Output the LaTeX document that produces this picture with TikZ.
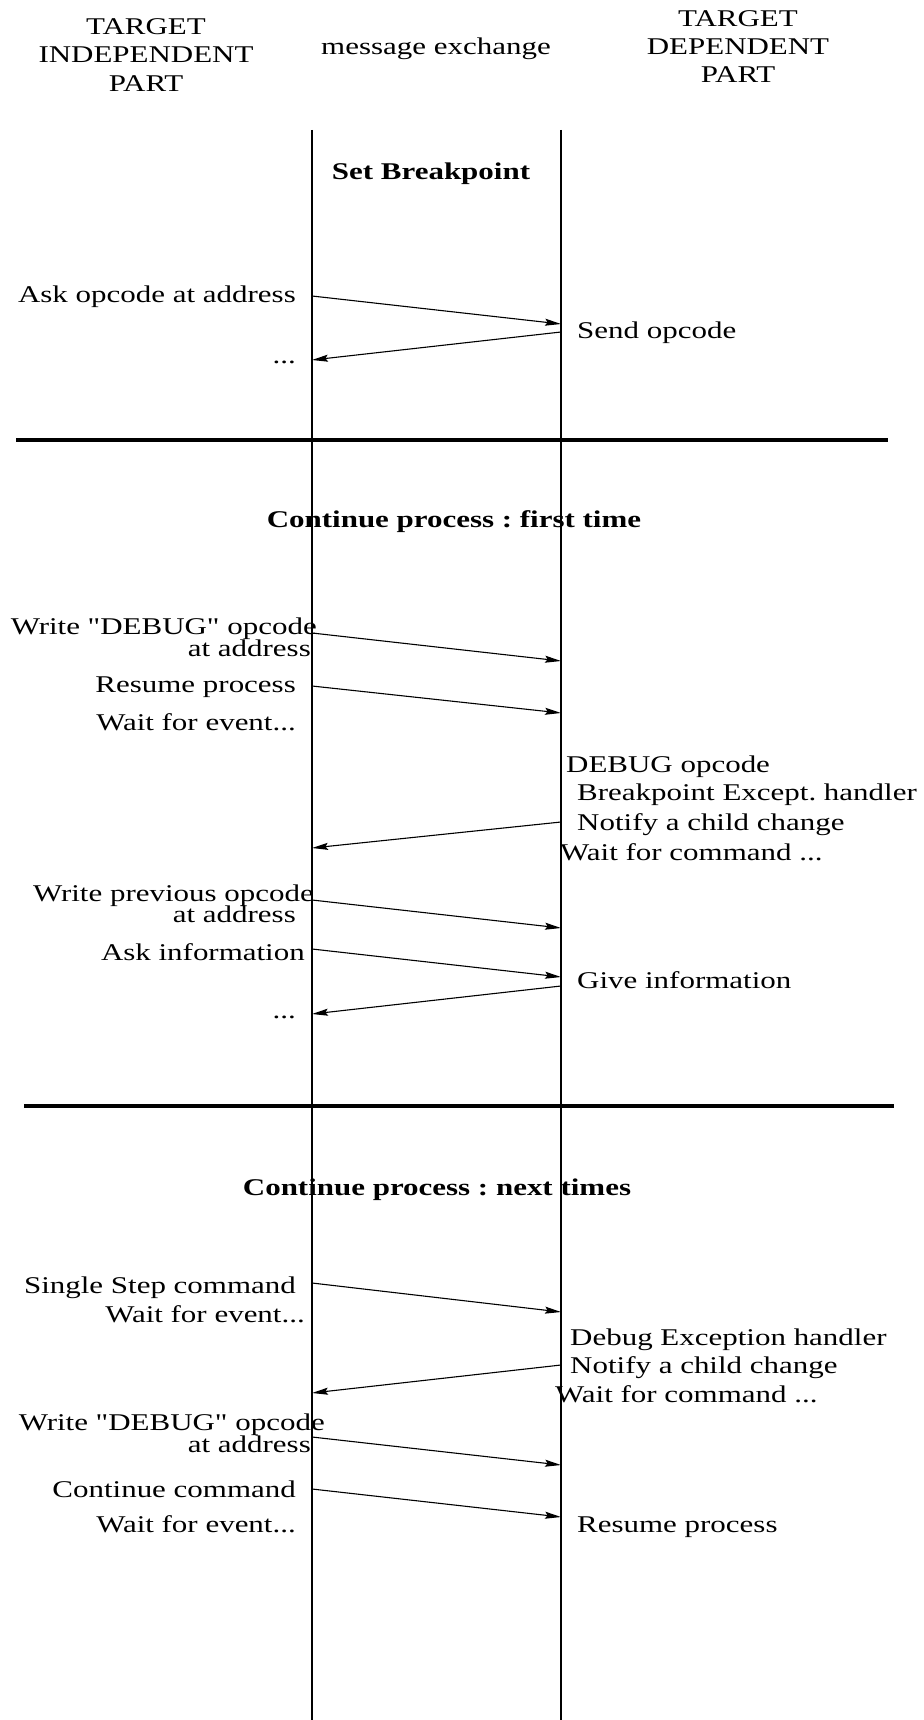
\documentclass[tikz,border=0pt]{standalone}
\usepackage{fontspec}
\setmainfont{Liberation Serif}[FakeStretch=1.29, Ligatures=TeXOff]
\usetikzlibrary{arrows.meta}
\begin{document}
\frenchspacing
\begin{tikzpicture}[x=1pt,y=-1pt,
  lbl/.style={inner sep=0pt, font=\fontsize{24}{29}\selectfont},
  lt/.style={lbl, anchor=base east},
  rt/.style={lbl, anchor=base west},
  hd/.style={lbl, anchor=base},
  ttl/.style={inner sep=0pt, anchor=base, font=\fontsize{24}{29}\selectfont\bfseries},
  life/.style={line width=1.4pt},
  sepline/.style={line width=3.3pt},
  msg/.style={line width=1.1pt, -{Stealth[length=16pt,width=7pt,inset=2.5pt]}}]
\useasboundingbox (0,0) rectangle (923,1720);
% headers
\node[hd] (h1) at (146,35) {TARGET};
\node[hd] (h2) at (146,63) {INDEPENDENT};
\node[hd] (h3) at (146,92) {PART};
\node[hd] (hm) at (436,55) {message exchange};
\node[hd] (h4) at (738,27) {TARGET};
\node[hd] (h5) at (738,55) {DEPENDENT};
\node[hd] (h6) at (738,83) {PART};
% lifelines
\coordinate (Ltop) at (312,130); \coordinate (Lbot) at (312,1720);
\coordinate (Rtop) at (561,130); \coordinate (Rbot) at (561,1720);
\draw[life] (Ltop) -- (Lbot);
\draw[life] (Rtop) -- (Rbot);
% separators
\coordinate (s1a) at (16,440); \coordinate (s1b) at (888,440);
\coordinate (s2a) at (24,1106); \coordinate (s2b) at (894,1106);
\draw[sepline] (s1a) -- (s1b);
\draw[sepline] (s2a) -- (s2b);
% section 1
\node[ttl] (t1) at (431,180) {Set Breakpoint};
\node[lt] (a1) at (296,302) {Ask opcode at address};
\node[rt] (b1) at (577,338) {Send opcode};
\node[lt] (c1) at (296,363) {...};
\coordinate (m1s) at (312,296); \coordinate (m1e) at (561,324);
\coordinate (m2s) at (561,332); \coordinate (m2e) at (312,360);
\draw[msg] (m1s) -- (m1e);
\draw[msg] (m2s) -- (m2e);
% section 2
\node[ttl] (t2) at (454,527) {Continue process : first time};
\node[lt] (a2) at (317,634) {Write "DEBUG" opcode};
\node[lt] (a2b) at (311,656) {at address};
\node[lt] (a3) at (296,692) {Resume process};
\node[lt] (a4) at (296,730) {Wait for event...};
\node[rt] (b2) at (566,772) {DEBUG opcode};
\node[rt] (b3) at (577,800) {Breakpoint Except. handler};
\node[rt] (b4) at (577,830) {Notify a child change};
\node[rt] (b5) at (560,860) {Wait for command ...};
\node[lt] (a5) at (314,901) {Write previous opcode};
\node[lt] (a5b) at (296,922) {at address};
\node[lt] (a6) at (305,960) {Ask information};
\node[rt] (b6) at (577,988) {Give information};
\node[lt] (a7) at (296,1018) {...};
\coordinate (m3s) at (312,633); \coordinate (m3e) at (561,661);
\coordinate (m4s) at (312,686); \coordinate (m4e) at (561,713);
\coordinate (m5s) at (561,822); \coordinate (m5e) at (312,848);
\coordinate (m6s) at (312,900); \coordinate (m6e) at (561,928);
\coordinate (m7s) at (312,949); \coordinate (m7e) at (561,977);
\coordinate (m8s) at (561,986); \coordinate (m8e) at (312,1014);
\draw[msg] (m3s) -- (m3e);
\draw[msg] (m4s) -- (m4e);
\draw[msg] (m5s) -- (m5e);
\draw[msg] (m6s) -- (m6e);
\draw[msg] (m7s) -- (m7e);
\draw[msg] (m8s) -- (m8e);
% section 3
\node[ttl] (t3) at (437,1195) {Continue process : next times};
\node[lt] (a8) at (296,1293) {Single Step command};
\node[lt] (a9) at (305,1322) {Wait for event...};
\node[rt] (b7) at (570,1345) {Debug Exception handler};
\node[rt] (b8) at (570,1373) {Notify a child change};
\node[rt] (b9) at (555,1402) {Wait for command ...};
\node[lt] (a10) at (325,1430) {Write "DEBUG" opcode};
\node[lt] (a10b) at (311,1452) {at address};
\node[lt] (a11) at (296,1497) {Continue command};
\node[lt] (a12) at (296,1532) {Wait for event...};
\node[rt] (b10) at (577,1532) {Resume process};
\coordinate (m9s) at (312,1283); \coordinate (m9e) at (561,1312);
\coordinate (m10s) at (561,1365); \coordinate (m10e) at (312,1393);
\coordinate (m11s) at (312,1437); \coordinate (m11e) at (561,1465);
\coordinate (m12s) at (312,1489); \coordinate (m12e) at (561,1517);
\draw[msg] (m9s) -- (m9e);
\draw[msg] (m10s) -- (m10e);
\draw[msg] (m11s) -- (m11e);
\draw[msg] (m12s) -- (m12e);
\end{tikzpicture}
\end{document}
